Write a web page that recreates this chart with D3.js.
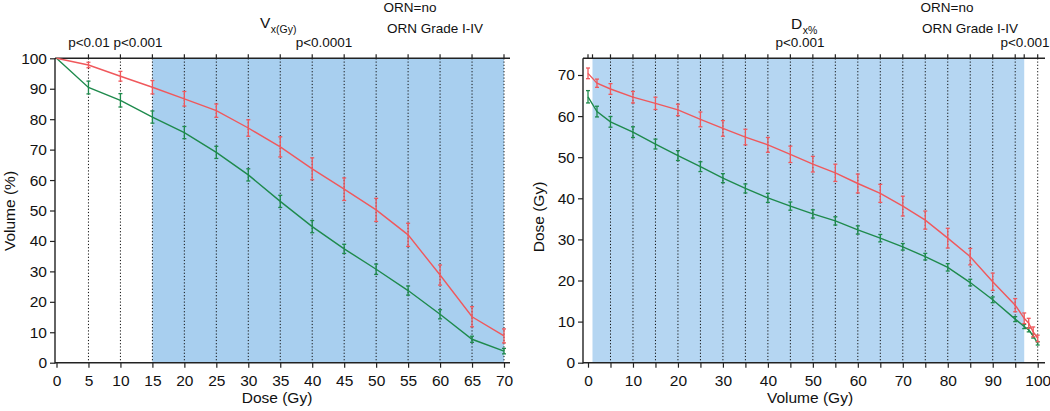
<!DOCTYPE html>
<html><head><meta charset="utf-8">
<script src="https://cdn.jsdelivr.net/npm/d3@7"></script>
<style>
body{margin:0;background:#fff;}
svg{display:block;font-family:"Liberation Sans",Arial,Helvetica,sans-serif;}
</style></head>
<body><svg id="c" width="1050" height="411"></svg>
<script>
// ---- Data ----
const doseX = [0,5,10,15,20,25,30,35,40,45,50,55,60,65,70];
const vxOrnNo = [100,90.4,86.2,80.7,75.6,69.1,61.7,53,44.7,37.4,30.7,23.7,15.9,7.7,3.8];
const vxOrnNoErr = [0,2.1,2.2,2,2,2,2,2,2,1.5,1.7,1.5,1.5,1,0.9];
const vxOrnGrade = [100,97.8,94.1,90.5,86.7,82.8,77.1,70.9,63.7,57,50.2,42,28.8,15.1,8.8];
const vxOrnGradeErr = [0,0.9,1.6,2.2,2.4,2.2,2.7,3.3,3.6,3.7,3.8,3.8,3.3,3.3,2.3];
const doseTicks = [0,5,10,15,20,25,30,35,40,45,50,55,60,65,70];
const volTicksLeft = [0,10,20,30,40,50,60,70,80,90,100];

const volX = [0,2,5,10,15,20,25,30,35,40,45,50,55,60,65,70,75,80,85,90,95,97,98,99,100];
const dxOrnNo = [64.7,61.1,58.6,56.1,53.2,50.4,47.7,44.9,42.4,40.1,38.1,36.2,34.5,32.3,30.3,28.2,25.8,23.2,19.5,15.3,10.6,8.8,8.0,6.5,4.7];
const dxOrnNoErr = [1.5,1.3,1.3,1.3,1.2,1.2,1.2,1.1,1.1,1.1,1.0,1.0,1.0,1.0,0.9,0.8,0.8,0.9,0.8,0.7,0.6,0.5,0.5,0.5,0.4];
const dxOrnGrade = [70.4,68,66.6,64.6,63.1,61.5,59.2,57,54.9,53,50.7,48.3,46.2,43.6,41.2,38.1,34.7,30.3,25.8,19.7,14,10.8,9.6,7.5,5.9];
const dxOrnGradeErr = [1.3,1.0,1.3,1.4,1.5,1.4,1.8,1.9,1.9,1.8,2.0,1.9,2.1,2.3,2.2,2.4,2.2,2.4,2.0,2.1,1.6,1.3,1.2,1.2,0.8];
const volTicksRight = [0,10,20,30,40,50,60,70,80,90,100];
const volMinorRight = d3.range(0,101,5);
const doseTicksRight = [0,10,20,30,40,50,60,70];

const seriesNames = ["ORN=no","ORN Grade I-IV"];
const colors = {no:"#1e8a4c", grade:"#f0585c"};

const svg = d3.select("#c");
const TOP = 58.3, BOT = 362.7;

function drawPanel(o){
  const g = svg.append("g");
  const x = o.x, y = o.y;
  // shading
  g.append("rect").attr("x",x(o.shade[0])).attr("y",TOP)
    .attr("width",x(o.shade[1])-x(o.shade[0])).attr("height",BOT-TOP)
    .attr("fill",o.shadeColor);
  // dotted lines
  g.selectAll("line.dot").data(o.dots).join("line")
    .attr("x1",d=>x(d)).attr("x2",d=>x(d)).attr("y1",TOP).attr("y2",BOT)
    .attr("stroke","#111").attr("stroke-width",1).attr("stroke-dasharray","1.2,2");
  // top frame line + ticks
  g.append("line").attr("x1",o.axStart).attr("x2",o.axEnd).attr("y1",TOP).attr("y2",TOP)
    .attr("stroke","#222").attr("stroke-width",1.4);
  g.selectAll("line.tt").data(o.topTicks).join("line")
    .attr("x1",d=>x(d)).attr("x2",d=>x(d)).attr("y1",TOP).attr("y2",TOP-4)
    .attr("stroke","#222").attr("stroke-width",1.2);
  // bottom axis
  const xa = d3.axisBottom(x).tickValues(o.xTickVals).tickSize(5).tickSizeOuter(0).tickFormat(d=>o.xLabels.includes(d)?d:"");
  const gx = g.append("g").attr("transform",`translate(0,${BOT})`).call(xa);
  gx.select(".domain").remove();
  gx.append("line").attr("x1",o.axStart).attr("x2",o.axEnd).attr("stroke","#222").attr("stroke-width",1.4);
  gx.selectAll(".tick line").attr("stroke","#222").attr("stroke-width",1.2);
  gx.selectAll(".tick text").attr("font-size",15.5).attr("fill","#111").attr("dy",0).attr("y",23)
    .attr("font-family","Liberation Sans,Arial,sans-serif");
  // left axis
  const ya = d3.axisLeft(y).tickValues(o.yTickVals).tickSize(5).tickSizeOuter(0);
  const gy = g.append("g").attr("transform",`translate(${o.axStart},0)`).call(ya);
  gy.select(".domain").remove();
  gy.append("line").attr("y1",TOP).attr("y2",BOT+0.7).attr("stroke","#222").attr("stroke-width",1.4);
  gy.selectAll(".tick line").attr("stroke","#222").attr("stroke-width",1.2);
  gy.selectAll(".tick text").attr("font-size",15.5).attr("fill","#111").attr("x",-8)
    .attr("font-family","Liberation Sans,Arial,sans-serif");
  // series
  o.series.forEach(s=>{
    const line = d3.line().x((d,i)=>x(o.xs[i])).y(d=>y(d));
    g.append("path").datum(s.vals).attr("d",line).attr("fill","none")
      .attr("stroke",s.color).attr("stroke-width",1.4);
    const eb = g.append("g").attr("stroke",s.color).attr("stroke-width",1.3);
    s.vals.forEach((v,i)=>{
      const e = s.err[i]; if(!e) return;
      const cx = x(o.xs[i]);
      eb.append("line").attr("x1",cx).attr("x2",cx).attr("y1",y(v-e)).attr("y2",y(v+e));
      eb.append("line").attr("x1",cx-2).attr("x2",cx+2).attr("y1",y(v-e)).attr("y2",y(v-e));
      eb.append("line").attr("x1",cx-2).attr("x2",cx+2).attr("y1",y(v+e)).attr("y2",y(v+e));
    });
  });
  // axis titles
  g.append("text").attr("x",o.xTitleX).attr("y",403).attr("text-anchor","middle")
    .attr("font-size",15.5).attr("fill","#111").text(o.xTitle);
  g.append("text").attr("transform",`translate(${o.yTitleX},${o.yTitleY}) rotate(-90)`)
    .attr("text-anchor","middle").attr("font-size",15.5).attr("fill","#111").text(o.yTitle);
  return g;
}

// Left panel
const xL = d3.scaleLinear().domain([0,70]).range([56.5,504]);
const yL = d3.scaleLinear().domain([0,100]).range([BOT,TOP]);
drawPanel({
  x:xL, y:yL, shade:[15,70], shadeColor:"#a8cfef",
  dots:doseTicks.filter(d=>d>0), topTicks:doseTicks.filter(d=>d>0),
  axStart:55, axEnd:510,
  xTickVals:doseTicks, xLabels:doseTicks, yTickVals:volTicksLeft,
  xs:doseX,
  series:[{vals:vxOrnNo,err:vxOrnNoErr,color:colors.no},{vals:vxOrnGrade,err:vxOrnGradeErr,color:colors.grade}],
  xTitle:"Dose (Gy)", xTitleX:277, yTitle:"Volume (%)", yTitleX:15, yTitleY:211
});

// Right panel
const xR = d3.scaleLinear().domain([0,100]).range([588,1037.7]);
const yR = d3.scaleLinear().domain([0,70]).range([BOT,75]);
drawPanel({
  x:xR, y:yR, shade:[1,97], shadeColor:"#b5d6f2",
  dots:volMinorRight.filter(d=>d>0), topTicks:[0,1].concat(volMinorRight.filter(d=>d>0&&d<100),[97,100]),
  axStart:583, axEnd:1045,
  xTickVals:volMinorRight, xLabels:volTicksRight, yTickVals:doseTicksRight,
  xs:volX,
  series:[{vals:dxOrnNo,err:dxOrnNoErr,color:colors.no},{vals:dxOrnGrade,err:dxOrnGradeErr,color:colors.grade}],
  xTitle:"Volume (Gy)", xTitleX:810, yTitle:"Dose (Gy)", yTitleX:544, yTitleY:217
});

// annotations
function ann(x,y,t,size,anchor){
  return svg.append("text").attr("x",x).attr("y",y).attr("font-size",size||13.5)
    .attr("text-anchor",anchor||"middle").attr("fill","#111").text(t);
}
// left
const tV = svg.append("text").attr("x",260).attr("y",28).attr("font-size",15.5).attr("fill","#111");
tV.append("tspan").text("V");
tV.append("tspan").attr("font-size",10.5).attr("dy",5).attr("dx",0.5).text("x(Gy)");
ann(410,11.5,seriesNames[0]);
ann(435,33,seriesNames[1]);
ann(89,47,"p<0.01");
ann(138,47,"p<0.001");
ann(324,47,"p<0.0001");
// right
const tD = svg.append("text").attr("x",791).attr("y",29).attr("font-size",15.5).attr("fill","#111");
tD.append("tspan").text("D");
tD.append("tspan").attr("font-size",10.5).attr("dy",5).attr("dx",0.5).text("x%");
ann(800,47,"p<0.001");
ann(947,11.5,seriesNames[0]);
ann(970,33,seriesNames[1]);
ann(1025,47,"p<0.001");
</script></body></html>
